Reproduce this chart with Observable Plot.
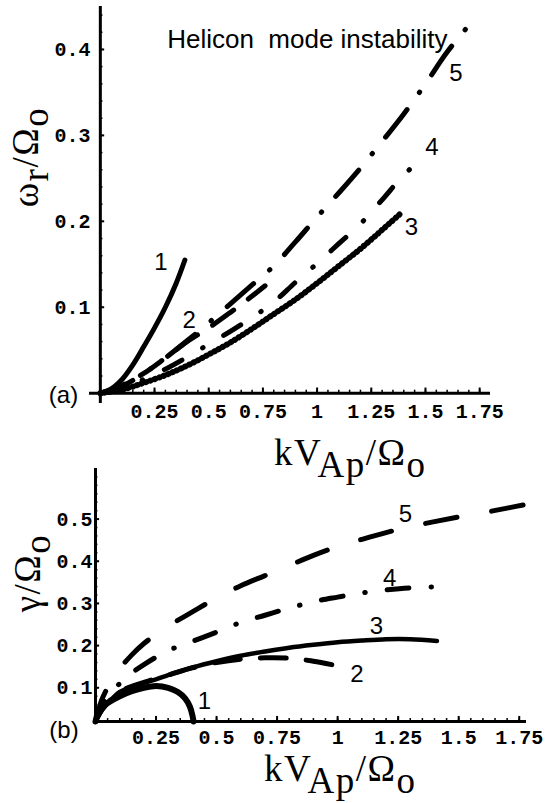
<!DOCTYPE html>
<html><head><meta charset="utf-8">
<script src="https://cdn.jsdelivr.net/npm/d3@7"></script>
<script src="https://cdn.jsdelivr.net/npm/@observablehq/plot@0.6"></script>
<style>
body{margin:0;background:#fff;}
#wrap{position:relative;width:548px;height:803px;overflow:hidden;background:#fff;}
#wrap svg{position:absolute;left:0;white-space:pre;}
</style></head><body><div id="wrap"></div>
<script>
// ---------- Panel (a): omega_r / Omega_o versus k V_Ap / Omega_o ----------
const a1k = [0, 0.05, 0.1, 0.15, 0.2, 0.25, 0.3, 0.35, 0.39];
const a1w = [0, 0.005, 0.016, 0.033, 0.054, 0.076, 0.1, 0.128, 0.155];
const a2k = [0, 0.1, 0.2, 0.3, 0.4, 0.5, 0.6, 0.7, 0.76];
const a2w = [0, 0.009, 0.023, 0.041, 0.06, 0.076, 0.094, 0.113, 0.125];
const a3k = [0, 0.1, 0.2, 0.3, 0.4, 0.5, 0.6, 0.7, 0.8, 0.9, 1.0, 1.1, 1.2, 1.3, 1.38];
const a3w = [0, 0.004, 0.012, 0.021, 0.032, 0.045, 0.059, 0.075, 0.092, 0.109, 0.128, 0.148, 0.168, 0.19, 0.208];
const a4k = [0, 0.1, 0.2, 0.3, 0.4, 0.5, 0.6, 0.7, 0.8, 0.9, 1.0, 1.1, 1.2, 1.3, 1.4, 1.49];
const a4w = [0, 0.006, 0.016, 0.028, 0.042, 0.057, 0.072, 0.088, 0.106, 0.129, 0.151, 0.174, 0.197, 0.225, 0.254, 0.274];
const a5k = [0, 0.1, 0.2, 0.3, 0.4, 0.5, 0.6, 0.7, 0.8, 0.9, 1.0, 1.1, 1.2, 1.3, 1.4, 1.5, 1.6, 1.73];
const a5w = [0, 0.008, 0.023, 0.041, 0.061, 0.082, 0.104, 0.126, 0.148, 0.176, 0.205, 0.233, 0.262, 0.293, 0.325, 0.36, 0.397, 0.437];

// ---------- Panel (b): gamma / Omega_o versus k V_Ap / Omega_o ----------
const b1k = [0, 0.01, 0.03, 0.05, 0.1, 0.15, 0.2, 0.25, 0.3, 0.34, 0.37, 0.39, 0.4, 0.405];
const b1g = [0.02, 0.04, 0.055, 0.064, 0.08, 0.092, 0.1, 0.104, 0.1, 0.09, 0.075, 0.055, 0.035, 0.02];
const b2k = [0, 0.03, 0.1, 0.2, 0.3, 0.4, 0.5, 0.6, 0.7, 0.8, 0.9, 1.0];
const b2g = [0.02, 0.05, 0.09, 0.113, 0.13, 0.147, 0.16, 0.168, 0.171, 0.17, 0.163, 0.152];
const b3k = [0, 0.03, 0.07, 0.1, 0.15, 0.2, 0.25, 0.3, 0.4, 0.5, 0.6, 0.7, 0.8, 0.9, 1.0, 1.1, 1.2, 1.3, 1.41];
const b3g = [0.02, 0.05, 0.075, 0.09, 0.102, 0.112, 0.12, 0.13, 0.148, 0.163, 0.176, 0.186, 0.195, 0.202, 0.208, 0.212, 0.215, 0.215, 0.211];
const b4k = [0, 0.05, 0.1, 0.15, 0.2, 0.3, 0.4, 0.5, 0.6, 0.7, 0.8, 0.9, 1.0, 1.1, 1.2, 1.3, 1.46];
const b4g = [0.02, 0.08, 0.11, 0.135, 0.155, 0.188, 0.21, 0.232, 0.255, 0.272, 0.289, 0.304, 0.315, 0.325, 0.332, 0.337, 0.34];
const b5k = [0, 0.025, 0.05, 0.1, 0.15, 0.2, 0.25, 0.3, 0.4, 0.5, 0.6, 0.7, 0.8, 0.9, 1.0, 1.1, 1.2, 1.3, 1.4, 1.5, 1.6, 1.7, 1.78];
const b5g = [0.02, 0.07, 0.1, 0.145, 0.178, 0.205, 0.226, 0.246, 0.28, 0.313, 0.342, 0.366, 0.39, 0.414, 0.435, 0.452, 0.468, 0.482, 0.494, 0.505, 0.515, 0.526, 0.535];

// ---------- ticks and labels ----------
const xMajor = [0.25, 0.5, 0.75, 1, 1.25, 1.5, 1.75];
const xMinorA = d3.range(1, 36).map(i => i * 0.05);
const xMinorB = d3.range(1, 36).map(i => i * 0.05);
const yMajorA = [0.1, 0.2, 0.3, 0.4];
const yMinorA = d3.range(1, 23).map(i => i * 0.02);
const yMajorB = [0.1, 0.2, 0.3, 0.4, 0.5];
const yMinorB = d3.range(2, 31).map(i => i * 0.02);
const curveNames = ["1", "2", "3", "4", "5"];
const labelsA = [{k: 0.28, v: 0.152}, {k: 0.41, v: 0.085}, {k: 1.435, v: 0.193}, {k: 1.53, v: 0.286}, {k: 1.64, v: 0.372}];
const labelsB = [{k: 0.45, v: 0.069}, {k: 1.08, v: 0.131}, {k: 1.16, v: 0.245}, {k: 1.215, v: 0.359}, {k: 1.28, v: 0.512}];
const titleA = "Helicon  mode instability";

const zip = (ks, vs) => ks.map((k, i) => ({k, v: vs[i]}));
const lab = (arr) => arr.map((d, i) => ({...d, name: curveNames[i]}));
const fmt = d => String(d);

const styleA = [
  {stroke: "black", strokeWidth: 5},
  {stroke: "black", strokeWidth: 5, strokeDasharray: "26,18", strokeLinecap: "round"},
  {stroke: "black", strokeWidth: 6, strokeDasharray: "0.5,4.2", strokeLinecap: "round"},
  {stroke: "black", strokeWidth: 5, strokeDasharray: "20,24,0.5,24", strokeLinecap: "round"},
  {stroke: "black", strokeWidth: 5, strokeDasharray: "35,21,0.5,21", strokeLinecap: "round"}
];
const styleB = [
  {stroke: "black", strokeWidth: 6},
  {stroke: "black", strokeWidth: 5, strokeDasharray: "26,20", strokeLinecap: "round"},
  {stroke: "black", strokeWidth: 4.5},
  {stroke: "black", strokeWidth: 5, strokeDasharray: "22,22,0.5,22", strokeLinecap: "round"},
  {stroke: "black", strokeWidth: 5, strokeDasharray: "32,35", strokeLinecap: "round"}
];

const seriesA = [zip(a1k, a1w), zip(a2k, a2w), zip(a3k, a3w), zip(a4k, a4w), zip(a5k, a5w)];
const seriesB = [zip(b1k, b1g), zip(b2k, b2g), zip(b3k, b3g), zip(b4k, b4g), zip(b5k, b5g)];

const serif = "'Liberation Serif', 'DejaVu Serif', serif";
const sans = "'Liberation Sans', Arial, sans-serif";
const mono = "'Liberation Mono', 'DejaVu Sans Mono', monospace";

// ---------- Plot (a) ----------
const plotA = Plot.plot({
  width: 548, height: 500,
  marginLeft: 89, marginRight: 58, marginTop: 6, marginBottom: 97,
  x: {domain: [-0.05, 1.80]},
  y: {domain: [-0.012, 0.45]},
  style: {background: "transparent", fontFamily: mono, fontSize: "20px", color: "black"},
  marks: [
    Plot.ruleX(xMinorA, {x: d => d, y1: 0, y2: 0.0035, strokeWidth: 1.5}),
    Plot.ruleX(xMajor, {x: d => d, y1: 0, y2: 0.006, strokeWidth: 2}),
    Plot.ruleY(yMinorA, {y: d => d, x1: 0, x2: 0.012, strokeWidth: 1.5}),
    Plot.ruleY(yMajorA, {y: d => d, x1: 0, x2: 0.02, strokeWidth: 2}),
    Plot.ruleY([0], {x1: -0.05, x2: 1.80, strokeWidth: 3}),
    Plot.ruleX([0], {y1: -0.012, y2: 0.45, strokeWidth: 3}),
    ...seriesA.map((s, i) => Plot.line(s, {x: "k", y: "v", curve: "catmull-rom", ...styleA[i]})),
    Plot.axisX({anchor: "bottom", ticks: xMajor, tickFormat: fmt, tickSize: 0, tickPadding: 0, label: null, fontFamily: mono, fontSize: 20, fontWeight: "bold"}),
    Plot.axisY({anchor: "left", ticks: yMajorA, tickFormat: fmt, tickSize: 0, tickPadding: 0, dx: 1, label: null, fontFamily: mono, fontSize: 20, fontWeight: "bold"}),
    Plot.text(lab(labelsA), {x: "k", y: "v", text: "name", fontFamily: sans, fontSize: 24, fill: "black"}),
    Plot.text([titleA], {x: 0.955, y: 0.402, text: d => d, lineAnchor: "bottom", fontFamily: sans, fontSize: 26, fill: "black"}),
    Plot.text(["(a)"], {x: -0.17, y: -0.002, text: d => d, fontFamily: sans, fontSize: 24, fill: "black"})
  ]
});

// ---------- Plot (b) ----------
const plotB = Plot.plot({
  width: 548, height: 383,
  marginLeft: 95, marginRight: 22, marginTop: 48, marginBottom: 82,
  x: {domain: [0, 1.78]},
  y: {domain: [0.02, 0.62]},
  style: {background: "transparent", fontFamily: mono, fontSize: "20px", color: "black"},
  marks: [
    Plot.ruleX(xMinorB, {x: d => d, y1: 0.02, y2: 0.027, strokeWidth: 1.5}),
    Plot.ruleX(xMajor, {x: d => d, y1: 0.02, y2: 0.032, strokeWidth: 2}),
    Plot.ruleY(yMinorB, {y: d => d, x1: 0, x2: 0.01, strokeWidth: 1.5}),
    Plot.ruleY(yMajorB, {y: d => d, x1: 0, x2: 0.017, strokeWidth: 2}),
    Plot.ruleY([0.02], {x1: 0, x2: 1.78, strokeWidth: 3}),
    Plot.ruleX([0], {y1: 0.02, y2: 0.62, strokeWidth: 3}),
    ...seriesB.map((s, i) => Plot.line(s, {x: "k", y: "v", curve: "catmull-rom", ...styleB[i]})),
    Plot.axisX({anchor: "bottom", ticks: xMajor, tickFormat: fmt, tickSize: 0, tickPadding: 8, label: null, fontFamily: mono, fontSize: 20, fontWeight: "bold"}),
    Plot.axisY({anchor: "left", ticks: yMajorB, tickFormat: fmt, tickSize: 0, tickPadding: 3, label: null, fontFamily: mono, fontSize: 20, fontWeight: "bold"}),
    Plot.text(lab(labelsB), {x: "k", y: "v", text: "name", fontFamily: sans, fontSize: 24, fill: "black"}),
    Plot.text(["(b)"], {x: -0.13, y: 0.0, text: d => d, fontFamily: sans, fontSize: 24, fill: "black"})
  ]
});

const wrap = document.getElementById("wrap");
plotA.style.top = "0px";
plotB.style.top = "420px";
wrap.appendChild(plotA);
wrap.appendChild(plotB);

// axis titles with sub-scripts
function axisTitle(svg, x, y, rotate, parts) {
  const t = d3.select(svg).append("text")
    .attr("transform", `translate(${x},${y})` + (rotate ? " rotate(-90)" : ""))
    .attr("text-anchor", rotate ? "middle" : "start")
    .attr("letter-spacing", 1.5)
    .attr("font-family", serif).attr("font-size", 37).attr("fill", "black");
  let cur = 0;
  for (const [s, shift] of parts) {
    t.append("tspan").attr("dy", shift - cur).text(s);
    cur = shift;
  }
}
const xTitle = [["kV", 0], ["Ap", 12], ["/\u03A9", 0], ["o", 12]];
axisTitle(plotA, 274, 465, false, xTitle);
axisTitle(plotB, 264, 361, false, xTitle);
axisTitle(plotA, 38, 157, true, [["\u03C9", 0], ["r", 10], ["/\u03A9", 0], ["o", 10]]);
axisTitle(plotB, 40, 153, true, [["\u03B3", 0], ["/\u03A9", 0], ["o", 10]]);
</script></body></html>
